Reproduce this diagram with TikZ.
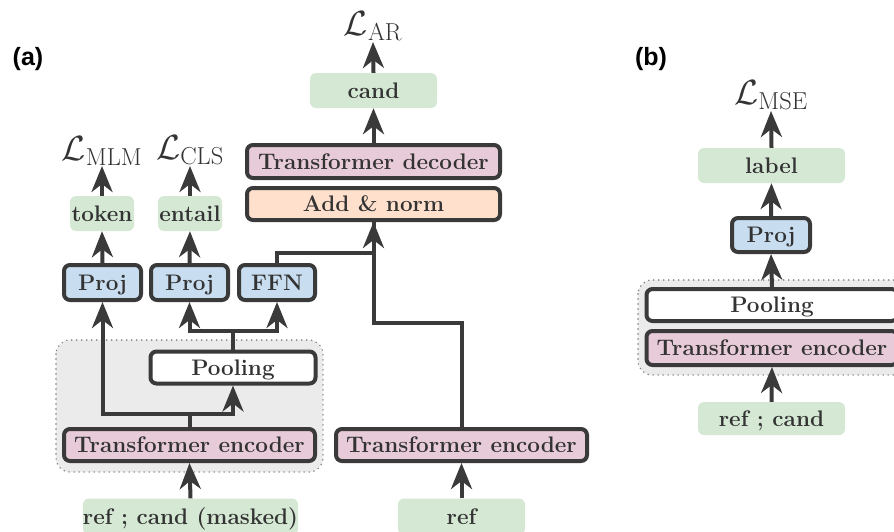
\RequirePackage{fix-cm}
\documentclass[tikz,border=0pt]{standalone}
\usepackage{fontspec}
\newfontfamily\labfont{Liberation Sans}
\usetikzlibrary{arrows.meta}
\definecolor{bd}{HTML}{3A3A3A}
\definecolor{tx}{HTML}{333333}
\definecolor{gr}{HTML}{D5E8D4}
\definecolor{pk}{HTML}{E8CBD8}
\definecolor{bl}{HTML}{C8DEF0}
\definecolor{og}{HTML}{FFE0CC}
\definecolor{gy}{HTML}{EBEBEB}
\definecolor{dt}{HTML}{7A7A7A}
\newcommand{\txtfont}{\fontsize{22.5}{26}\selectfont\bfseries}
\newcommand{\mfont}{\fontsize{35}{38}\selectfont}
\begin{document}
\begin{tikzpicture}[x=1pt,y=-1pt,
  box/.style={draw=bd,line width=4pt,rounded corners=6pt,inner sep=0pt,font=\txtfont,text=tx,text height=15pt,text depth=0pt},
  io/.style={fill=gr,rounded corners=6pt,inner sep=0pt,font=\txtfont,text=tx,text height=15pt,text depth=0pt},
  arr/.style={draw=bd,line width=4pt,-{Stealth[length=26pt,width=21pt,inset=8pt]}},
  ln/.style={draw=bd,line width=4pt},
  loss/.style={inner sep=0.5pt,font=\mfont,text=tx},
  grp/.style={fill=gy,draw=dt,line width=1.6pt,dash pattern=on 0pt off 5pt,line cap=round,rounded corners=14pt},
  lab/.style={font=\labfont\fontsize{25}{28}\selectfont\bfseries,text=black,inner sep=0pt}]
\useasboundingbox (0,0) rectangle (894,531);
\clip (0,0) rectangle (894,531);
\fill[white] (0,0) rectangle (894,531);

% ---------- panel (a) ----------
\node[lab] (la) at (28,59) {(a)};
\draw[grp] (56,340) rectangle (323,472);

\node[io,minimum width=127pt,minimum height=35pt] (cand) at (373.5,90.5) {cand};
\node[box,fill=pk,minimum width=253pt,minimum height=33pt] (dec) at (373.5,161.5) {Transformer decoder};
\node[box,fill=og,minimum width=253pt,minimum height=32pt] (add) at (373.5,204) {Add \& norm};

\node[io,minimum width=64pt,minimum height=35pt] (token) at (102,213.5) {token};
\node[io,minimum width=64pt,minimum height=35pt] (entail) at (190,213.5) {entail};

\node[box,fill=bl,minimum width=77pt,minimum height=35pt] (proj1) at (102.5,282.5) {Proj};
\node[box,fill=bl,minimum width=77pt,minimum height=35pt] (proj2) at (189.5,282.5) {Proj};
\node[box,fill=bl,minimum width=76pt,minimum height=35pt] (ffn) at (277,282.5) {FFN};

\node[box,fill=white,minimum width=165pt,minimum height=32pt] (pool) at (233,367.5) {Pooling};
\node[box,fill=pk,minimum width=251pt,minimum height=32pt] (enc1) at (189.5,445) {Transformer encoder};
\node[box,fill=pk,minimum width=251pt,minimum height=32pt] (enc2) at (461.5,445) {Transformer encoder};

\node[io,minimum width=209pt,minimum height=36pt] (inp1) at (190.5,516.5) {ref ; cand (masked)};
\node[io,minimum width=127pt,minimum height=36pt] (inp2) at (461.5,516.5) {ref};

\node[loss,anchor=south] (lar) at (373,42) {$\mathcal{L}_{\mathrm{AR}}$};
\node[loss,anchor=south] (lmlm) at (102,166) {$\mathcal{L}_{\mathrm{MLM}}$};
\node[loss,anchor=south] (lcls) at (190,166) {$\mathcal{L}_{\mathrm{CLS}}$};

% connectors (a)
\draw[arr] (inp1.north) -- (enc1.south);
\draw[arr] (inp2.north) -- (enc2.south);
\draw[arr] (enc1.north) -- ++(0,-13) -| (proj1.south);
\draw[arr] (enc1.north) -- ++(0,-13) -| (pool.south);
\draw[arr] (pool.north) -- ++(0,-19) -| (proj2.south);
\draw[arr] (pool.north) -- ++(0,-19) -| (ffn.south);
\draw[ln] (ffn.north) -- ++(0,-10) -| (add.south);
\draw[arr] (enc2.north) -- ++(0,-104) -| (add.south);
\draw[arr] (dec.north) -- (cand.south);
\draw[arr] (cand.north) -- (lar.south);
\draw[arr] (proj1.north) -- (token.south);
\draw[arr] (proj2.north) -- (entail.south);
\draw[arr] (token.north) -- (lmlm.south);
\draw[arr] (entail.north) -- (lcls.south);

% ---------- panel (b) ----------
\node[lab] (lb) at (651,59) {(b)};
\draw[grp] (638,280) rectangle (912,375);
\node[box,fill=white,minimum width=251pt,minimum height=32pt] (pool2) at (772,305) {Pooling};
\node[box,fill=pk,minimum width=251pt,minimum height=34pt] (enc3) at (772,348) {Transformer encoder};
\node[box,fill=bl,minimum width=78pt,minimum height=34pt] (proj3) at (771,235) {Proj};
\node[io,minimum width=147pt,minimum height=35pt] (label) at (771.5,165.5) {label};
\node[io,minimum width=147pt,minimum height=33pt] (inp3) at (771.5,418.5) {ref ; cand};
\node[loss,anchor=south] (lmse) at (771,111) {$\mathcal{L}_{\mathrm{MSE}}$};

\draw[arr] (inp3.north) -- (enc3.south);
\draw[arr] (pool2.north) -- (proj3.south);
\draw[arr] (proj3.north) -- (label.south);
\draw[arr] (label.north) -- (lmse.south);
\end{tikzpicture}
\end{document}
